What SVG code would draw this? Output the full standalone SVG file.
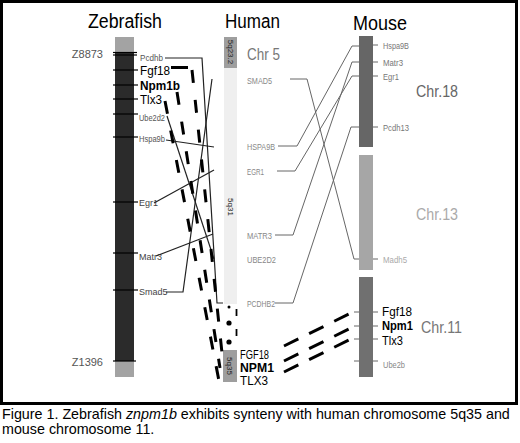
<svg xmlns="http://www.w3.org/2000/svg" width="520" height="443" viewBox="0 0 520 443">
<style>
.ttl{font-family:"Liberation Sans",Arial,sans-serif;font-size:20px;fill:#000}
.sm{font-family:"Liberation Sans",Arial,sans-serif;font-size:9px}
.big{font-family:"Liberation Sans",Arial,sans-serif;font-size:13px;fill:#000}
.mid{font-family:"Liberation Sans",Arial,sans-serif;font-size:12px;fill:#000}
.chr{font-family:"Liberation Sans",Arial,sans-serif;font-size:17px}
.band{font-family:"Liberation Sans",Arial,sans-serif;font-size:8px;fill:#222}
.cap{font-family:"Liberation Sans",Arial,sans-serif;font-size:14.3px;fill:#000}
.tick{stroke:#000;stroke-width:1.2}
.mtick{stroke:#666;stroke-width:1}
.zl{fill:none;stroke:#222;stroke-width:1.2}
.hl{fill:none;stroke:#666;stroke-width:1}
.dash{fill:none;stroke:#000;stroke-width:3;stroke-dasharray:13 17}
.mdash{fill:none;stroke:#000;stroke-width:3;stroke-dasharray:16 12}
</style>
<rect x="1.5" y="1.5" width="515" height="402" fill="#fff" stroke="#000" stroke-width="3"/>

<g id="zebrafish">
<text class="ttl" x="88" y="28" textLength="74" lengthAdjust="spacingAndGlyphs">Zebrafish</text>
<rect x="115" y="37" width="19" height="16" fill="#a3a3a3"/>
<rect x="115" y="53" width="19" height="308" fill="#2b2b2b"/>
<rect x="115" y="361" width="19" height="16" fill="#a3a3a3"/>
<g>
<line class="tick" x1="113" y1="52.5" x2="137" y2="52.5"/>
<line class="tick" x1="113" y1="55" x2="137" y2="55"/>
<line class="tick" x1="113" y1="70" x2="138" y2="70"/>
<line class="tick" x1="113" y1="85" x2="138" y2="85"/>
<line class="tick" x1="113" y1="99" x2="138" y2="99"/>
<line class="tick" x1="113" y1="114" x2="138" y2="114"/>
<line class="tick" x1="113" y1="137" x2="138" y2="137"/>
<line class="tick" x1="113" y1="202" x2="138" y2="202"/>
<line class="tick" x1="113" y1="253" x2="138" y2="253"/>
<line class="tick" x1="113" y1="290" x2="138" y2="290"/>
<line class="tick" x1="113" y1="361" x2="136" y2="361"/>
</g>
<text class="sm" x="103" y="58" text-anchor="end" style="font-size:11px;fill:#555">Z8873</text>
<text class="sm" x="103" y="366" text-anchor="end" style="font-size:11px;fill:#555">Z1396</text>
<text class="sm" x="140" y="61" fill="#555" textLength="23" lengthAdjust="spacingAndGlyphs">Pcdhb</text>
<text class="big" x="140" y="75" textLength="30" lengthAdjust="spacingAndGlyphs">Fgf18</text>
<text class="big" x="140" y="90" font-weight="bold" textLength="40" lengthAdjust="spacingAndGlyphs">Npm1b</text>
<text class="big" x="140" y="104" textLength="22" lengthAdjust="spacingAndGlyphs">Tlx3</text>
<text class="sm" x="139" y="121" fill="#555" textLength="26" lengthAdjust="spacingAndGlyphs">Ube2d2</text>
<text class="sm" x="139" y="142" fill="#555" textLength="26" lengthAdjust="spacingAndGlyphs">Hspa9b</text>
<text class="sm" x="139" y="206" fill="#444">Egr1</text>
<text class="sm" x="139" y="260" fill="#444">Matr3</text>
<text class="sm" x="139" y="295" fill="#444">Smad5</text>
</g>

<g id="human">
<text class="ttl" x="225" y="28" textLength="55" lengthAdjust="spacingAndGlyphs">Human</text>
<rect x="224" y="37" width="13" height="31" fill="#9e9e9e"/>
<rect x="224" y="68" width="13" height="236" fill="#efefef"/>
<rect x="223" y="350" width="14" height="32" fill="#9e9e9e"/>
<text class="band" transform="translate(230.5,52) rotate(90)" text-anchor="middle" dy="0.35em">5q23.2</text>
<text class="band" transform="translate(230.5,207) rotate(90)" text-anchor="middle" dy="0.35em">5q31</text>
<text class="band" transform="translate(230,366) rotate(90)" text-anchor="middle" dy="0.35em">5q35</text>
<circle cx="229" cy="307" r="1.5" fill="#000"/>
<circle cx="229" cy="323" r="2.6" fill="#000"/>
<circle cx="229" cy="342" r="2.6" fill="#000"/>
<line x1="236.5" y1="309" x2="236.5" y2="316" stroke="#000" stroke-width="1.8"/>
<line x1="236.5" y1="329" x2="236.5" y2="336" stroke="#000" stroke-width="1.8"/>
<text class="chr" x="247" y="60" fill="#777" textLength="33" lengthAdjust="spacingAndGlyphs">Chr 5</text>
<text class="sm" x="247" y="84" fill="#888" textLength="25" lengthAdjust="spacingAndGlyphs">SMAD5</text>
<text class="sm" x="247" y="150" fill="#888" textLength="28" lengthAdjust="spacingAndGlyphs">HSPA9B</text>
<text class="sm" x="247" y="175" fill="#888" textLength="17" lengthAdjust="spacingAndGlyphs">EGR1</text>
<text class="sm" x="247" y="239" fill="#888" textLength="25" lengthAdjust="spacingAndGlyphs">MATR3</text>
<text class="sm" x="247" y="263" fill="#888" textLength="29" lengthAdjust="spacingAndGlyphs">UBE2D2</text>
<text class="sm" x="247" y="307" fill="#888" textLength="28" lengthAdjust="spacingAndGlyphs">PCDHB2</text>
<text class="mid" x="240" y="359" textLength="29" lengthAdjust="spacingAndGlyphs">FGF18</text>
<text class="mid" x="240" y="372" font-weight="bold" textLength="34" lengthAdjust="spacingAndGlyphs">NPM1</text>
<text class="mid" x="240" y="385" textLength="28" lengthAdjust="spacingAndGlyphs">TLX3</text>
</g>

<g id="mouse">
<text class="ttl" x="353" y="30" textLength="54" lengthAdjust="spacingAndGlyphs">Mouse</text>
<rect x="359" y="36" width="14" height="111" fill="#666"/>
<rect x="359" y="155" width="14" height="115" fill="#a6a6a6"/>
<rect x="359" y="277" width="14" height="100" fill="#707070"/>
<g>
<line class="mtick" x1="373" y1="45" x2="378" y2="45"/>
<line class="mtick" x1="373" y1="62" x2="378" y2="62"/>
<line class="mtick" x1="373" y1="76" x2="378" y2="76"/>
<line class="mtick" x1="373" y1="127" x2="378" y2="127"/>
<line class="mtick" x1="373" y1="259" x2="378" y2="259" stroke="#aaa"/>
<line class="mtick" x1="373" y1="312" x2="378" y2="312"/>
<line class="mtick" x1="373" y1="326" x2="378" y2="326"/>
<line class="mtick" x1="373" y1="339" x2="378" y2="339"/>
<line class="mtick" x1="373" y1="361" x2="378" y2="361"/>
<line class="mtick" x1="354" y1="312" x2="359" y2="312"/>
<line class="mtick" x1="354" y1="326" x2="359" y2="326"/>
<line class="mtick" x1="354" y1="339" x2="359" y2="339"/>
<line class="mtick" x1="354" y1="361" x2="359" y2="361"/>
</g>
<text class="sm" x="383" y="49" fill="#777" textLength="26" lengthAdjust="spacingAndGlyphs">Hspa9B</text>
<text class="sm" x="383" y="66" fill="#777" textLength="20" lengthAdjust="spacingAndGlyphs">Matr3</text>
<text class="sm" x="383" y="80" fill="#777" textLength="16" lengthAdjust="spacingAndGlyphs">Egr1</text>
<text class="sm" x="383" y="131" fill="#777" textLength="26" lengthAdjust="spacingAndGlyphs">Pcdh13</text>
<text class="sm" x="383" y="263" fill="#aaa" textLength="24" lengthAdjust="spacingAndGlyphs">Madh5</text>
<text class="mid" x="382" y="316" textLength="30" lengthAdjust="spacingAndGlyphs">Fgf18</text>
<text class="mid" x="382" y="330" font-weight="bold" textLength="31" lengthAdjust="spacingAndGlyphs">Npm1</text>
<text class="mid" x="382" y="345" textLength="21" lengthAdjust="spacingAndGlyphs">Tlx3</text>
<text class="sm" x="383" y="368" fill="#888" textLength="22" lengthAdjust="spacingAndGlyphs">Ube2b</text>
<text class="chr" x="416" y="97" fill="#666" textLength="42" lengthAdjust="spacingAndGlyphs">Chr.18</text>
<text class="chr" x="416" y="220" fill="#aaa" textLength="42" lengthAdjust="spacingAndGlyphs">Chr.13</text>
<text class="chr" x="421" y="333" fill="#777" textLength="41" lengthAdjust="spacingAndGlyphs">Chr.11</text>
</g>

<g id="connectors">
<polyline class="zl" points="165,58 202,58 217,303 223,303"/>
<polyline class="zl" points="167,116 214,259"/>
<polyline class="zl" points="166,140 214,147"/>
<polyline class="zl" points="154,203 214,170"/>
<polyline class="zl" points="156,256 213,234"/>
<polyline class="zl" points="166,292 183,292 212,79"/>
<line x1="171" y1="67.5" x2="188" y2="67.5" stroke="#000" stroke-width="3"/>
<path class="dash" d="M192,70 L222,353"/>
<path class="dash" d="M177,92 L220,368"/>
<path class="dash" d="M165,101 L219,381"/>
<polyline class="hl" points="290,79 307,79 354,259 359,259" stroke="#bbb"/>
<polyline class="hl" points="278,146 297,146 352,46 359,46"/>
<polyline class="hl" points="277,171 295,171 352,76 359,76"/>
<polyline class="hl" points="275,235 293,235 352,62 359,62"/>
<polyline class="hl" points="275,303 293,303 351,127 359,127"/>
<path class="mdash" d="M284,346 L357,310"/>
<path class="mdash" d="M284,361 L355,326"/>
<path class="mdash" d="M284,372 L355,337"/>
</g>

<g id="caption">
<text class="cap" x="2" y="419">Figure 1. Zebrafish <tspan font-style="italic">znpm1b</tspan> exhibits synteny with human chromosome 5q35 and</text>
<text class="cap" x="2" y="434">mouse chromosome 11.</text>
</g>
</svg>
